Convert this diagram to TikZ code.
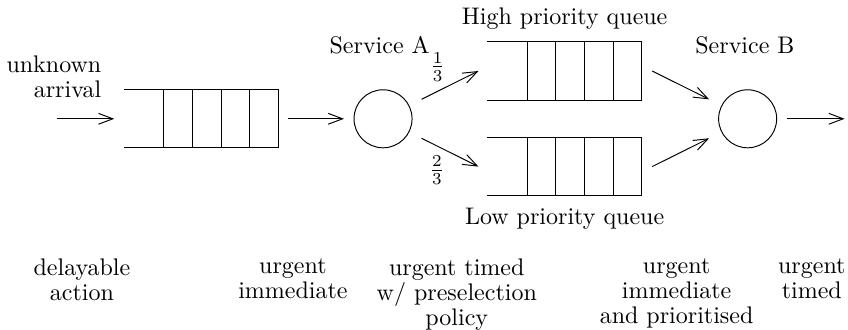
\documentclass[tikz,border=0pt]{standalone}
\usetikzlibrary{arrows.meta}
\tikzstyle{queue}=[minimum width=2.25cm, minimum height=0.84cm, inner sep=0pt]
\tikzstyle{server}=[draw, circle, minimum size=0.85cm, inner sep=0pt]
\tikzstyle{flow}=[-{Straight Barb[length=6pt,width=4.5pt]}, shorten <=0.14cm, shorten >=0.14cm]
\tikzstyle{caption}=[inner sep=0pt, align=center, font=\fontsize{10}{10.4}\selectfont]
\newcommand{\drawqueue}[1]{%
  \draw (#1.north west) -- (#1.north east) -- (#1.south east) -- (#1.south west);
  \foreach \slot in {1,...,4}
    \draw ([xshift=-\slot*0.42cm]#1.north east) -- ([xshift=-\slot*0.42cm]#1.south east);
}

\begin{document}
\begin{tikzpicture}
    \useasboundingbox (0,0) rectangle (12.42,4.83);

    \node[queue] (q1) at (2.945,3.09) {};
    \node[queue] (hq) at (8.27,3.79) {};
    \node[queue] (lq) at (8.27,2.39) {};
    \drawqueue{q1}
    \drawqueue{hq}
    \drawqueue{lq}

    \node[server] (sa) at (5.61,3.09) {};
    \node[server] (sb) at (10.95,3.09) {};

    \coordinate (in) at (0.83,3.09);
    \coordinate (out) at (12.37,3.09);

    \draw[flow, shorten <=0pt] (in) -- (q1);
    \draw[flow] (q1) -- (sa);
    \draw[flow, shorten <=0.2cm, shorten >=0pt] (sa.27) -- ([xshift=-0.13cm]hq.west);
    \draw[flow, shorten <=0.2cm, shorten >=0pt] (sa.-27) -- ([xshift=-0.13cm]lq.west);
    \draw[flow, shorten <=0pt, shorten >=0.2cm] ([xshift=0.15cm]hq.east) -- (sb.153);
    \draw[flow, shorten <=0pt, shorten >=0.2cm] ([xshift=0.15cm]lq.east) -- (sb.207);
    \draw[flow, shorten >=0pt] (sb) -- (out);

    \node[caption, align=right, anchor=east] (arrival) at (1.49,3.70) {unknown\\arrival};
    \node[caption] (namea) at (5.56,4.17) {Service A};
    \node[caption] (nameb) at (10.91,4.17) {Service B};
    \node[caption] (high) at (8.27,4.55) {High priority queue};
    \node[caption] (low) at (8.27,1.63) {Low priority queue};
    \node[caption] (onethird) at (6.41,3.85) {$\frac{1}{3}$};
    \node[caption] (twothirds) at (6.40,2.34) {$\frac{2}{3}$};

    \node[caption, anchor=north] (delay) at (1.20,1.05) {delayable\\action};
    \node[caption, anchor=north] (immA) at (4.29,1.05) {urgent\\immediate};
    \node[caption, anchor=north] (timedA) at (6.69,1.05) {urgent timed\\w/ preselection\\policy};
    \node[caption, anchor=north] (immB) at (9.91,1.05) {urgent\\immediate\\and prioritised};
    \node[caption, anchor=north] (timedB) at (11.89,1.05) {urgent\\timed};
\end{tikzpicture}
\end{document}
